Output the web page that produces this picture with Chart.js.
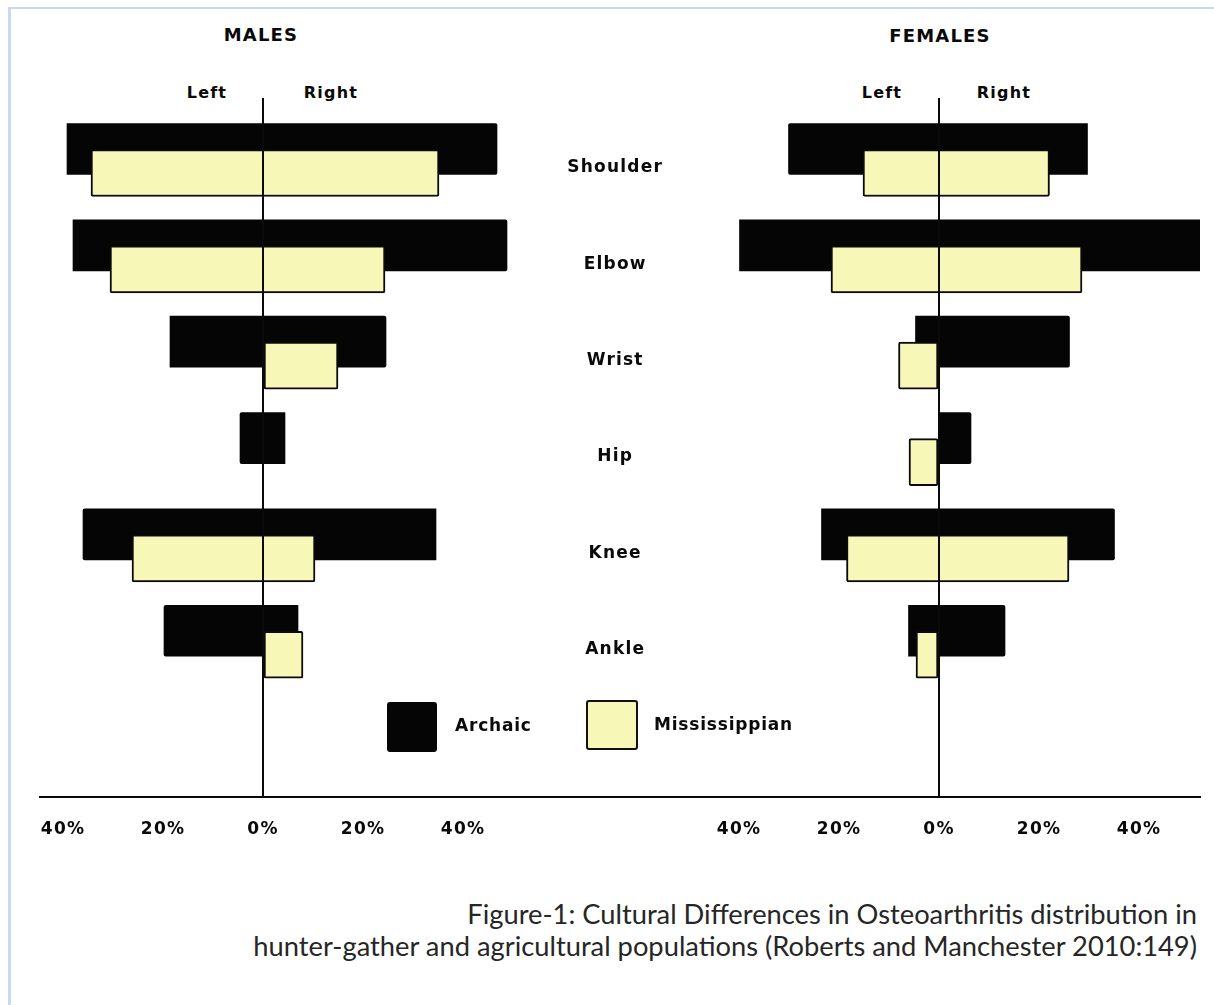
<!DOCTYPE html>
<html>
<head>
<meta charset="utf-8">
<script src="https://cdn.jsdelivr.net/npm/chart.js@4.4.1/dist/chart.umd.min.js"></script>
<style>
  html, body { margin: 0; padding: 0; background: #fff; }
  body { width: 1214px; height: 1005px; position: relative; overflow: hidden; font-family: "DejaVu Sans", sans-serif; }
  .frame { position: absolute; left: 8px; top: 7px; width: 1300px; height: 1100px;
           border-top: 2px solid #c6d9f1; border-left: 3px solid #c6d9f1; }
  .panel { position: absolute; top: 0; height: 857px; }
  .lbl { position: absolute; font-weight: bold; color: #0a0a0a; white-space: nowrap;
         transform: translate(-50%, -50%); letter-spacing: 1.2px; }
  .leg { position: absolute; font-weight: bold; font-size: 17px; color: #0a0a0a; white-space: nowrap;
         transform: translateY(-50%); letter-spacing: 0.8px; }
  .sw { position: absolute; box-sizing: border-box; border-radius: 3px; }
  .caption { position: absolute; right: 17px; top: 898px; text-align: right; font-family: Lato, sans-serif;
             font-size: 27.3px; line-height: 32px; color: #262626; white-space: nowrap; }
</style>
</head>
<body>
<div class="frame"></div>

<div class="lbl" style="left:261px; top:34px; font-size:18px;">MALES</div>
<div class="lbl" style="left:940px; top:35px; font-size:18px;">FEMALES</div>
<div class="lbl" style="left:207px; top:92px; font-size:16px;">Left</div>
<div class="lbl" style="left:331px; top:92px; font-size:16px;">Right</div>
<div class="lbl" style="left:882px; top:92px; font-size:16px;">Left</div>
<div class="lbl" style="left:1004px; top:92px; font-size:16px;">Right</div>

<div class="panel" style="left:0; width:700px;"><canvas id="males"></canvas></div>
<div class="panel" style="left:540px; width:674px;"><canvas id="females"></canvas></div>

<div class="sw" style="left:387px; top:702px; width:50px; height:50px; background:#050505;"></div>
<div class="leg" style="left:455px; top:725px;">Archaic</div>
<div class="sw" style="left:586px; top:700px; width:52px; height:50px; background:#f7f7b8; border:2px solid #111;"></div>
<div class="leg" style="left:654px; top:724px;">Mississippian</div>

<div class="caption">Figure-1: Cultural Differences in Osteoarthritis distribution in<br>hunter-gather and agricultural populations (Roberts and Manchester 2010:149)</div>

<script>
// ── Osteoarthritis by joint, Archaic vs Mississippian ─────────────────────────
const JOINTS      = ['Shoulder', 'Elbow', 'Wrist', 'Hip', 'Knee', 'Ankle'];
const TICK_VALUES = [-40, -20, 0, 20, 40];

// % of individuals affected, left side / right side
const MALE_ARCHAIC_LEFT    = [39.2, 38.0, 18.6, 4.6, 36.0, 19.8];
const MALE_ARCHAIC_RIGHT   = [46.8, 48.8, 24.6, 4.4, 34.6, 7.0];
const MALE_MISS_LEFT       = [34.4, 30.6, 0, 0, 26.2, 0];
const MALE_MISS_RIGHT      = [35.2, 24.4, 15.0, 0, 10.4, 8.0];
const FEMALE_ARCHAIC_LEFT  = [30.1, 39.9, 4.7, 0, 23.5, 6.1];
const FEMALE_ARCHAIC_RIGHT = [29.7, 55.0, 26.1, 6.4, 35.1, 13.2];
const FEMALE_MISS_LEFT     = [15.2, 21.6, 8.1, 6.0, 18.5, 4.6];
const FEMALE_MISS_RIGHT    = [22.1, 28.6, 0, 0, 26.0, 0];

const INK    = '#0a0a0a';
const YELLOW = '#f7f7b8';
const FONT   = { family: 'DejaVu Sans', weight: 'bold', size: 17 };

// left values go negative so each bar floats across the centre line
function _bars(left, right) {
  return left
    .map((l, i) => (l || right[i]) ? { y: i, x: [-l, right[i]] } : null)
    .filter(Boolean);
}

// canvas has no letter-spacing option in Chart.js, set it on the context
const spacingPlugin = {
  id: 'spacing',
  beforeLayout: chart => { chart.ctx.letterSpacing = '1.2px'; },
  beforeDraw:   chart => { chart.ctx.letterSpacing = '1.2px'; },
};

const jointTicks = s => { s.ticks = JOINTS.map((j, i) => ({ value: i })); };

function makePanel(id, archL, archR, missL, missR, xMin, xMax, showJoints, padding) {
  return new Chart(document.getElementById(id), {
    type: 'bar',
    data: {
      datasets: [
        // drawn last -> sits on top of the Archaic bar
        { label: 'Mississippian', data: _bars(missL, missR), yAxisID: 'ym',
          backgroundColor: YELLOW, borderColor: INK, borderWidth: 2, borderSkipped: false, borderRadius: 2,
          grouped: false, barThickness: 47 },
        { label: 'Archaic', data: _bars(archL, archR), yAxisID: 'ya',
          backgroundColor: '#050505', borderWidth: 0, borderRadius: 2,
          grouped: false, barThickness: 51 },
      ],
    },
    options: {
      indexAxis: 'y',
      responsive: true, maintainAspectRatio: false, animation: false,
      layout: { padding },
      plugins: { legend: { display: false }, tooltip: { enabled: false } },
      scales: {
        x: {
          type: 'linear', min: xMin, max: xMax,
          afterBuildTicks: s => { s.ticks = TICK_VALUES.map(v => ({ value: v })); },
          afterFit: s => { s.height = 60; },
          grid: { z: 1, drawTicks: false, lineWidth: 2,
                  color: c => (c.tick && c.tick.value === 0) ? INK : 'rgba(0,0,0,0)' },
          border: { z: 1, display: true, color: INK, width: 2 },
          ticks: { z: 1, padding: 22, color: INK, font: FONT, autoSkip: false, maxRotation: 0,
                   callback: v => Math.abs(v) + '%' },
        },
        ya: {
          axis: 'y', type: 'linear', reverse: true, offset: false, bounds: 'data', min: -0.5293, max: 6.7255,
          display: showJoints, position: 'left',
          afterBuildTicks: jointTicks,
          afterFit: s => { if (showJoints) s.width = 150; },
          grid: { display: false, drawTicks: false }, border: { display: false },
          ticks: { padding: 27, labelOffset: 19, crossAlign: 'center', autoSkip: false,
                   color: INK, font: FONT, callback: v => JOINTS[v] ?? '' },
        },
        ym: {
          axis: 'y', type: 'linear', reverse: true, offset: false, bounds: 'data', min: -0.7784, max: 6.4764,
          display: false, afterBuildTicks: jointTicks,
        },
      },
    },
    plugins: [spacingPlugin],
  });
}

makePanel('males',   MALE_ARCHAIC_LEFT,   MALE_ARCHAIC_RIGHT,   MALE_MISS_LEFT,   MALE_MISS_RIGHT,
          -44.6, 85.4, false, { left: 40, right: 10, top: 98, bottom: 0 });
makePanel('females', FEMALE_ARCHAIC_LEFT, FEMALE_ARCHAIC_RIGHT, FEMALE_MISS_LEFT, FEMALE_MISS_RIGHT,
          -49.8, 52.2, true,  { left: 0, right: 14, top: 98, bottom: 0 });
</script>
</body>
</html>
